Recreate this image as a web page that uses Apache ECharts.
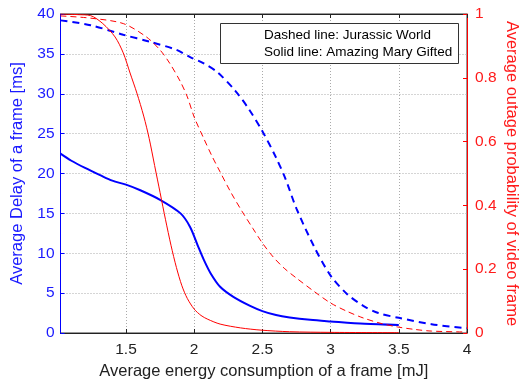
<!DOCTYPE html>
<html><head><meta charset="utf-8">
<script src="https://cdn.jsdelivr.net/npm/echarts@6/dist/echarts.min.js"></script>
<style>html,body{margin:0;padding:0;background:#fff}#c{width:526px;height:383px}</style>
</head><body><div id="c"></div>
<script>
const xTicks = [1.5, 2, 2.5, 3, 3.5, 4];
const xBlueSolid = [1.02,1.1,1.2,1.31,1.4,1.5,1.605,1.75,1.9,1.97,2.03,2.07,2.12,2.19,2.29,2.41,2.5,2.6,2.7,2.85,3.0,3.25,3.5];
const yBlueSolid = [22.5,21.6,20.7,19.8,19.1,18.6,17.9,16.7,15.0,13.3,10.8,9.2,7.5,5.8,4.5,3.4,2.75,2.25,1.95,1.65,1.45,1.15,1.0];
const xBlueDashed = [1.02,1.24,1.48,1.68,1.87,1.97,2.07,2.17,2.3,2.4,2.5,2.6,2.67,2.75,2.88,3.0,3.12,3.24,3.35,3.5,3.74,4.0];
const yBlueDashed = [39.2,38.6,37.4,36.5,35.5,34.6,33.8,32.7,30.4,28.1,25.3,22.0,19.3,15.6,10.8,7.2,4.9,3.4,2.5,1.9,1.1,0.6];
const xRedSolid = [1.02,1.15,1.24,1.33,1.42,1.48,1.53,1.58,1.63,1.67,1.71,1.75,1.79,1.83,1.87,1.91,1.95,2.0,2.05,2.1,2.19,2.34,2.49,2.7,3.0,3.5];
const yRedSolid = [1.0,0.998,0.995,0.97,0.928,0.878,0.815,0.752,0.68,0.61,0.525,0.44,0.355,0.275,0.205,0.148,0.108,0.075,0.055,0.043,0.028,0.016,0.009,0.004,0.002,0.001];
const xRedDashed = [1.02,1.24,1.48,1.65,1.75,1.82,1.9,1.95,2.0,2.07,2.13,2.19,2.27,2.35,2.43,2.5,2.58,2.66,2.75,2.88,3.0,3.12,3.24,3.37,3.49,3.62,3.74,4.0];
const yRedDashed = [0.994,0.987,0.97,0.928,0.887,0.846,0.787,0.74,0.677,0.61,0.555,0.505,0.44,0.382,0.328,0.282,0.238,0.203,0.172,0.13,0.094,0.068,0.047,0.03,0.019,0.011,0.006,0.003];
const legendLines = ['Dashed line: Jurassic World', 'Solid line: Amazing Mary Gifted'];

const zip = (xs, ys) => xs.map((x, i) => [x, ys[i]]);
const F = 'Liberation Sans, Arial, sans-serif';
const grid = {left: 60.5, right: 59, top: 14, bottom: 50, show: true, borderColor: '#333', borderWidth: 1,
  containLabel: false, outerBoundsMode: 'none'};
const chart = echarts.init(document.getElementById('c'), null, {renderer: 'canvas'});
chart.setOption({
  animation: false,
  grid: grid,
  xAxis: [{
    type: 'value', min: 1.02, max: 4,
    name: 'Average energy consumption of a frame [mJ]', nameLocation: 'middle', nameGap: 29,
    nameTextStyle: {fontFamily: F, fontSize: 16.5, color: '#222'},
    axisLine: {show: true, onZero: false, lineStyle: {color: '#222'}},
    axisTick: {show: true, inside: true, length: 4, customValues: xTicks, lineStyle: {color: '#222'}},
    axisLabel: {customValues: xTicks, fontFamily: F, fontSize: 15.5, color: '#222', margin: 9},
    splitLine: {show: true, lineStyle: {color: '#aaa', type: [1, 2], width: 1}}
  }, {
    type: 'value', min: 1.02, max: 4, position: 'top',
    axisLine: {show: true, onZero: false, lineStyle: {color: '#222'}},
    axisTick: {show: true, inside: true, length: 4, customValues: xTicks, lineStyle: {color: '#222'}},
    axisLabel: {show: false}, splitLine: {show: false}
  }],
  yAxis: [{
    type: 'value', min: 0, max: 40, interval: 5, position: 'left',
    name: 'Average Delay of a frame [ms]', nameLocation: 'middle', nameGap: 31,
    nameTextStyle: {fontFamily: F, fontSize: 16.5, color: '#1a1aff'},
    axisLine: {show: true, onZero: false, lineStyle: {color: '#0000ff'}},
    axisTick: {show: true, inside: true, length: 4, lineStyle: {color: '#0000ff'}},
    axisLabel: {fontFamily: F, fontSize: 15.5, color: '#1a1aff', margin: 6},
    splitLine: {show: true, lineStyle: {color: '#aaa', type: [1, 2], width: 1}}
  }, {
    type: 'value', min: 0, max: 1, interval: 0.2, position: 'right',
    name: 'Average outage probability of video frame', nameLocation: 'middle', nameGap: 36, nameRotate: -90,
    nameMoveOverlap: false,
    nameTextStyle: {fontFamily: F, fontSize: 16.5, color: '#ff1a1a'},
    axisLine: {show: true, onZero: false, lineStyle: {color: '#ff0000'}},
    axisTick: {show: true, inside: true, length: 4, lineStyle: {color: '#ff0000'}},
    axisLabel: {fontFamily: F, fontSize: 15.5, color: '#ff1a1a', margin: 8},
    splitLine: {show: false}
  }],
  series: [
    {type: 'line', xAxisIndex: 0, yAxisIndex: 0, data: zip(xBlueDashed, yBlueDashed), showSymbol: false, smooth: 0.3,
     lineStyle: {color: '#0000ff', width: 2, type: [7, 5]}},
    {type: 'line', xAxisIndex: 0, yAxisIndex: 0, data: zip(xBlueSolid, yBlueSolid), showSymbol: false, smooth: 0.3,
     lineStyle: {color: '#0000ff', width: 2}},
    {type: 'line', xAxisIndex: 0, yAxisIndex: 1, data: zip(xRedDashed, yRedDashed), showSymbol: false, smooth: 0.3,
     lineStyle: {color: '#ff0000', width: 1, type: [6, 4]}},
    {type: 'line', xAxisIndex: 0, yAxisIndex: 1, data: zip(xRedSolid, yRedSolid), showSymbol: false, smooth: 0.3,
     lineStyle: {color: '#ff0000', width: 1}}
  ],
  graphic: [
    {type: 'rect', left: 220, top: 23, z: 100, shape: {width: 238, height: 40}, style: {fill: '#fff', stroke: '#333', lineWidth: 1}},
    {type: 'text', left: 264, top: 28, z: 101, style: {text: legendLines[0], font: '13.5px ' + F, fill: '#000'}},
    {type: 'text', left: 264, top: 45, z: 101, style: {text: legendLines[1], font: '13.5px ' + F, fill: '#000'}}
  ]
});
</script></body></html>
